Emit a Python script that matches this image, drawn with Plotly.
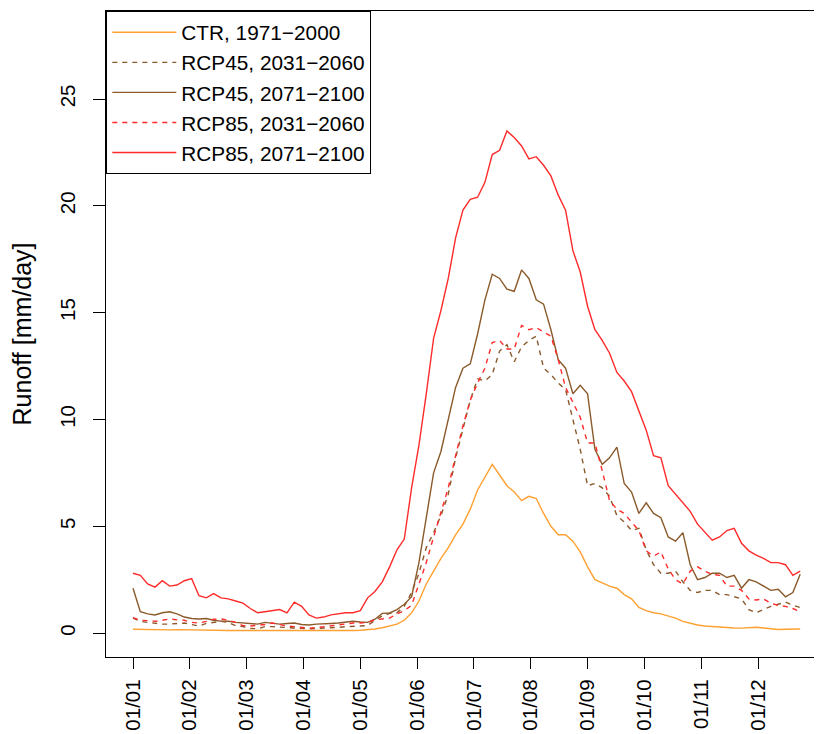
import plotly.graph_objects as go

# day of year sampled every 4 days (1..365)
days = list(range(1, 366, 4))

ctr_1971_2000 = [
    0.18, 0.17, 0.16, 0.16, 0.15, 0.15, 0.16, 0.15, 0.14, 0.14,
    0.13, 0.13, 0.13, 0.12, 0.12, 0.12, 0.11, 0.11, 0.10, 0.10,
    0.10, 0.10, 0.09, 0.09, 0.09, 0.09, 0.09, 0.10, 0.10, 0.11,
    0.12, 0.13, 0.15, 0.19, 0.25, 0.32, 0.42, 0.60, 0.95, 1.5,
    2.3, 2.9, 3.5, 4.0, 4.6, 5.1, 5.8, 6.7, 7.3, 7.9,
    7.4, 6.9, 6.6, 6.2, 6.4, 6.3, 5.6, 5.0, 4.6, 4.6,
    4.3, 3.8, 3.1, 2.5, 2.35, 2.2, 2.1, 1.8, 1.6, 1.2,
    1.05, 0.95, 0.9, 0.8, 0.7, 0.55, 0.45, 0.38, 0.33, 0.30,
    0.27, 0.25, 0.24, 0.23, 0.25, 0.27, 0.24, 0.20, 0.17, 0.18,
    0.19, 0.19,
]

rcp45_2031_2060 = [
    0.70, 0.55, 0.50, 0.45, 0.42, 0.42, 0.45, 0.47, 0.40, 0.33,
    0.45, 0.50, 0.55, 0.50, 0.35, 0.30, 0.22, 0.20, 0.30, 0.30,
    0.28, 0.25, 0.22, 0.20, 0.20, 0.22, 0.23, 0.25, 0.27, 0.30,
    0.33, 0.33, 0.35, 0.60, 0.80, 0.92, 0.95, 1.25, 1.9, 2.8,
    4.0, 4.7, 5.5, 6.5, 8.2, 9.6, 10.9, 11.9, 11.8, 12.1,
    13.2, 13.5, 12.7, 13.4, 13.7, 13.9, 12.4, 12.1, 11.7, 11.4,
    10.0, 8.6, 6.9, 7.0, 6.8, 6.4, 5.5, 5.2, 4.8, 4.9,
    3.9, 3.2, 2.8, 2.8, 2.9, 2.4, 2.0, 1.9, 2.0, 2.0,
    1.8, 1.8, 1.7, 1.6, 1.1, 0.95, 1.1, 1.25, 1.35, 1.45,
    1.3, 1.2,
]

rcp45_2071_2100 = [
    2.1, 1.0, 0.9, 0.85, 0.95, 1.0, 0.9, 0.75, 0.68, 0.66,
    0.68, 0.60, 0.56, 0.55, 0.50, 0.47, 0.45, 0.42, 0.50, 0.45,
    0.42, 0.45, 0.47, 0.40, 0.38, 0.42, 0.42, 0.45, 0.47, 0.50,
    0.55, 0.52, 0.50, 0.65, 0.92, 0.94, 1.1, 1.35, 1.7, 3.3,
    5.5, 7.5, 8.5, 10.0, 11.5, 12.4, 12.6, 14.0, 15.6, 16.8,
    16.6, 16.1, 16.0, 17.0, 16.6, 15.6, 15.4, 14.2, 12.8, 12.4,
    11.2, 11.6, 11.2, 8.6, 7.9, 8.2, 8.7, 7.0, 6.6, 5.6,
    6.1, 5.6, 5.4, 4.5, 4.3, 4.7, 3.2, 2.5, 2.6, 2.8,
    2.8, 2.6, 2.7, 2.1, 2.5, 2.4, 2.2, 2.0, 2.05, 1.7,
    1.9, 2.75,
]

rcp85_2031_2060 = [
    0.72, 0.60, 0.58, 0.55, 0.60, 0.66, 0.62, 0.60, 0.50, 0.47,
    0.55, 0.65, 0.66, 0.60, 0.50, 0.35, 0.33, 0.35, 0.40, 0.47,
    0.40, 0.33, 0.30, 0.28, 0.23, 0.25, 0.30, 0.35, 0.38, 0.45,
    0.47, 0.47, 0.50, 0.62, 0.66, 0.70, 0.90, 1.05, 1.3, 2.3,
    3.3, 4.5, 5.7, 6.8, 8.3, 9.7, 10.9, 11.7, 12.4, 13.6,
    13.7, 13.3, 13.3, 14.4, 14.2, 14.3, 14.1, 13.9, 12.8, 11.5,
    10.8, 10.1, 8.9, 8.9, 7.6, 6.2, 5.8, 5.6, 5.2, 4.8,
    3.85, 3.6, 3.8, 3.0, 2.5, 2.3, 2.9, 3.1, 2.9, 2.75,
    2.7, 2.2, 2.2, 2.0, 1.6, 1.55, 1.6, 1.4, 1.3, 1.25,
    1.15, 1.0,
]

rcp85_2071_2100 = [
    2.8, 2.7, 2.3, 2.15, 2.45, 2.2, 2.25, 2.45, 2.55, 1.75,
    1.65, 1.85, 1.65, 1.6, 1.5, 1.4, 1.15, 0.95, 1.0, 1.05,
    1.1, 0.95, 1.45, 1.25, 0.85, 0.70, 0.75, 0.85, 0.90, 0.95,
    0.95, 1.05, 1.65, 1.95, 2.4, 3.1, 3.9, 4.4, 6.8, 8.8,
    11.2, 13.8, 15.1, 16.6, 18.5, 19.8, 20.3, 20.4, 21.1, 22.4,
    22.6, 23.5, 23.2, 22.8, 22.2, 22.3, 21.9, 21.4, 20.5, 19.8,
    17.9, 16.9, 15.3, 14.2, 13.7, 13.1, 12.2, 11.8, 11.3, 10.4,
    9.5, 8.3, 8.2, 6.9, 6.5, 6.1, 5.7, 5.1, 4.7, 4.35,
    4.5, 4.8, 4.9, 4.2, 3.85, 3.65, 3.5, 3.3, 3.3, 3.2,
    2.7, 2.9,
]

tick_days = [1, 32, 63, 94, 125, 156, 187, 218, 249, 280, 311, 342]
tick_labels = ["01/01", "01/02", "01/03", "01/04", "01/05", "01/06",
               "01/07", "01/08", "01/09", "01/10", "01/11", "01/12"]
y_ticks = [0, 5, 10, 15, 20, 25]

series = [
    ("CTR, 1971\u22122000", ctr_1971_2000, "#FFA030", "solid"),
    ("RCP45, 2031\u22122060", rcp45_2031_2060, "#8B5A2B", "5px,5px"),
    ("RCP45, 2071\u22122100", rcp45_2071_2100, "#8B5A2B", "solid"),
    ("RCP85, 2031\u22122060", rcp85_2031_2060, "#FF2A2A", "5px,5px"),
    ("RCP85, 2071\u22122100", rcp85_2071_2100, "#FF2A2A", "solid"),
]

FONT = "Liberation Sans, Arial, Helvetica, sans-serif"

fig = go.Figure()
for name, vals, color, dash in series:
    fig.add_trace(go.Scatter(
        x=days, y=vals, mode="lines", name=name,
        line=dict(color=color, width=1.4, dash=dash),
    ))

# the page body has an 8px default margin: the figure is sized to fill the rest
fig.update_layout(
    width=814, height=726,
    margin=dict(l=98, r=0, t=3, b=77, autoexpand=False),
    paper_bgcolor="white", plot_bgcolor="white",
    font=dict(family=FONT, size=20.5, color="black"),
    showlegend=True,
    legend=dict(
        x=0, y=1, xanchor="left", yanchor="top",
        bordercolor="black", borderwidth=1.3, bgcolor="white",
        font=dict(family=FONT, size=20.8, color="black"),
        tracegroupgap=0, itemwidth=64,
    ),
    xaxis=dict(
        range=[-13.73, 376.9], tickmode="array", tickvals=tick_days,
        ticktext=tick_labels, tickangle=-90, ticks="outside", ticklen=11,
        tickwidth=1.3, tickcolor="black", showline=True, linecolor="black",
        linewidth=1.3, mirror=True, showgrid=False, zeroline=False,
        ticklabelstandoff=2,
    ),
    yaxis=dict(
        range=[-1.12, 29.12], tickmode="array", tickvals=y_ticks,
        tickangle=-90, ticks="outside", ticklen=12, tickwidth=1.3,
        tickcolor="black", showline=True, linecolor="black", linewidth=1.3,
        mirror=False, showgrid=False, zeroline=False,
        ticklabelstandoff=10,
        title=dict(text="Runoff [mm/day]", standoff=20),
    ),
)

fig.write_html("out.html")
